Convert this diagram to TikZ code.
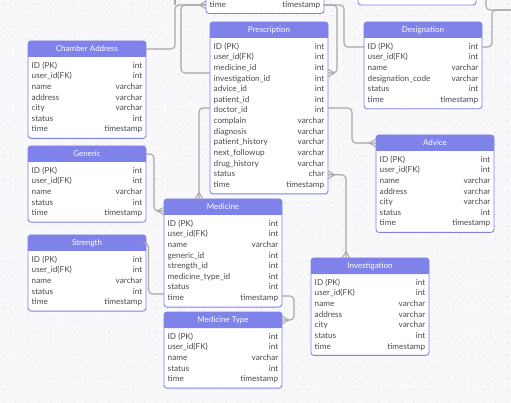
\documentclass[tikz,border=0pt]{standalone}
\usepackage{fontspec}
\setmainfont{Lato}
\usetikzlibrary{calc}
\definecolor{hdr}{HTML}{7E82E9}
\definecolor{bgc}{HTML}{F8F8FA}
\definecolor{dotc}{HTML}{D8D8E0}
\definecolor{linec}{HTML}{A8A8A8}
\definecolor{txt}{HTML}{4A4A52}
\tikzset{
 tabbox/.style={draw=hdr, line width=0.9pt, fill=white, rounded corners=3pt, minimum width=118pt, inner sep=0pt, outer sep=0pt},
 tabtitle/.style={text=white, font=\fontsize{8}{9}\selectfont, inner sep=0pt, text height=5.9pt, text depth=1.7pt},
 rowl/.style={text=txt, font=\fontsize{8.2}{9}\selectfont, inner sep=0pt, anchor=west, text height=5.9pt, text depth=1.7pt},
 rowr/.style={text=txt, font=\fontsize{8.2}{9}\selectfont, inner sep=0pt, anchor=east, text height=5.9pt, text depth=1.7pt},
 conn/.style={draw=linec, line width=1.15pt, rounded corners=4pt},
 crowln/.style={draw=linec, line width=1.1pt},
}
\newcommand\dbtab[6]{%
 \pgfmathsetmacro\tabh{25+(#5-1)*10.65+8.5}%
 \node[tabbox, minimum height=\tabh pt, anchor=north west] (#1) at (#2,#3) {};
 \fill[hdr, rounded corners=3pt] (#1.north west) rectangle ($(#1.north east)+(0,16)$);
 \fill[hdr] ($(#1.north west)+(0,10)$) rectangle ($(#1.north east)+(0,16)$);
 \node[tabtitle] (#1-t) at ($(#1.north)+(0,8)$) {#4};
 \foreach \colA/\colB [count=\i] in {#6} {
   \pgfmathsetmacro\dy{25+(\i-1)*10.65}
   \node[rowl] (#1-l\i) at ($(#1.north west)+(3.5,\dy)$) {\colA};
   \node[rowr] (#1-r\i) at ($(#1.north east)+(-3.5,\dy)$) {\colB};
 }
}
\newcommand\crowft[2]{\draw[crowln, shift={(#1)}, rotate=#2] (6.5,0) -- (0,3.8) (6.5,0) -- (0,-3.8);}
\begin{document}
\begin{tikzpicture}[x=1pt, y=-1pt]
\useasboundingbox (0,0) rectangle (511,403);
\clip (0,0) rectangle (511,403);
\fill[bgc] (0,0) rectangle (511,403);
\foreach \x in {0,...,43}{\foreach \y in {0,...,34}{\fill[dotc] ({4+\x*11.7},{4+\y*11.7}) circle (0.65pt);}}

\dbtab{topt}{206}{-20}{}{1}{time/timestamp}
\node[tabbox, minimum height=40pt, anchor=south west] (topr) at (358,5) {};
\dbtab{cham}{28}{41}{Chamber Address}{7}{ID (PK)/int, user\_id(FK)/int, name/varchar, address/varchar, city/varchar, status/int, time/timestamp}
\dbtab{presc}{210}{22}{Prescription}{14}{ID (PK)/int, user\_id(FK)/int, medicine\_id/int, investigation\_id/int, advice\_id/int, patient\_id/int, doctor\_id/int, complain/varchar, diagnosis/varchar, patient\_history/varchar, next\_followup/varchar, drug\_history/varchar, status/char, time/timestamp}
\dbtab{desig}{364}{22}{Designation}{6}{ID (PK)/int, user\_id(FK)/int, name/varchar, designation\_code/varchar, status/int, time/timestamp}
\dbtab{adv}{376}{135}{Advice}{7}{ID (PK)/int, user\_id(FK)/int, name/varchar, address/varchar, city/varchar, status/int, time/timestamp}
\dbtab{gen}{28}{146}{Generic}{5}{ID (PK)/int, user\_id(FK)/int, name/varchar, status/int, time/timestamp}
\dbtab{str}{28}{235}{Strength}{5}{ID (PK)/int, user\_id(FK)/int, name/varchar, status/int, time/timestamp}
\dbtab{med}{164}{199}{Medicine}{8}{ID (PK)/int, user\_id(FK)/int, name/varchar, generic\_id/int, strength\_id/int, medicine\_type\_id/int, status/int, time/timestamp}
\dbtab{mtype}{164}{312}{Medicine Type}{5}{ID (PK)/int, user\_id(FK)/int, name/varchar, status/int, time/timestamp}
\dbtab{inv}{311}{258}{Investigation}{7}{ID (PK)/int, user\_id(FK)/int, name/varchar, address/varchar, city/varchar, status/int, time/timestamp}

\coordinate (cA) at (cham-t -| cham.east);
\coordinate (tL) at (topt-l1 -| topt.west);
\coordinate (tR) at (topt-r1 -| topt.east);
\coordinate (pL1) at ($(presc.north west)+(0,51)$);
\coordinate (pR1) at ($(presc.north east)+(0,51)$);
\coordinate (dL) at (desig-l1 -| desig.west);
\coordinate (dR) at (desig-l1 -| desig.east);
\coordinate (pR2) at ($(presc.north east)+(0,86)$);
\coordinate (pL2) at ($(presc.north west)+(0,86)$);
\coordinate (aL) at (adv-t -| adv.west);
\coordinate (mT) at ($(med.north west)+(35,0)$);
\coordinate (pR3) at (presc-r13 -| presc.east);
\coordinate (iT) at ($(inv.north west)+(35,0)$);
\coordinate (gR) at (gen-t -| gen.east);
\coordinate (mL1) at ($(med.north west)+(0,12)$);
\coordinate (sR) at (str-t -| str.east);
\coordinate (mL2) at ($(med.north west)+(0,95)$);
\coordinate (mR) at ($(med.north east)+(0,97)$);
\coordinate (mtR) at ($(mtype.north east)+(0,8)$);
\coordinate (offA) at (175,-6);
\coordinate (offB) at (514,10);
\coordinate (offC) at (486,-6);

\draw[conn] (cA) -- ++(29,0) |- (tL);
\draw[conn] (offA) -- (offA |- tL);
\draw[conn] (pL1) -- ++(-29,0) |- (tL);
\draw[conn] (tR) -- ++(20,0) |- (dL);
\draw[conn] (pR1) -- ++(9,0) |- (tR);
\draw[conn] (dR) -- ++(10,0) |- (offB);
\draw[conn] (offC) |- (offB);
\draw[conn] (pR2) -- ++(24,0) |- (aL);
\draw[conn] (pL2) -| (mT);
\draw[conn] (pR3) -| (iT);
\draw[conn] (gR) -- ++(8,0) |- (mL1);
\draw[conn] (sR) -- ++(2.5,0) |- (mL2);
\draw[conn] (mR) -- ++(12,0) |- (mtR);
\crowft{tL}{180}
\crowft{pR1}{0}
\crowft{aL}{180}
\crowft{mT}{90}
\crowft{pR3}{0}
\crowft{iT}{90}
\crowft{mL1}{180}
\crowft{mtR}{0}
\end{tikzpicture}
\end{document}
